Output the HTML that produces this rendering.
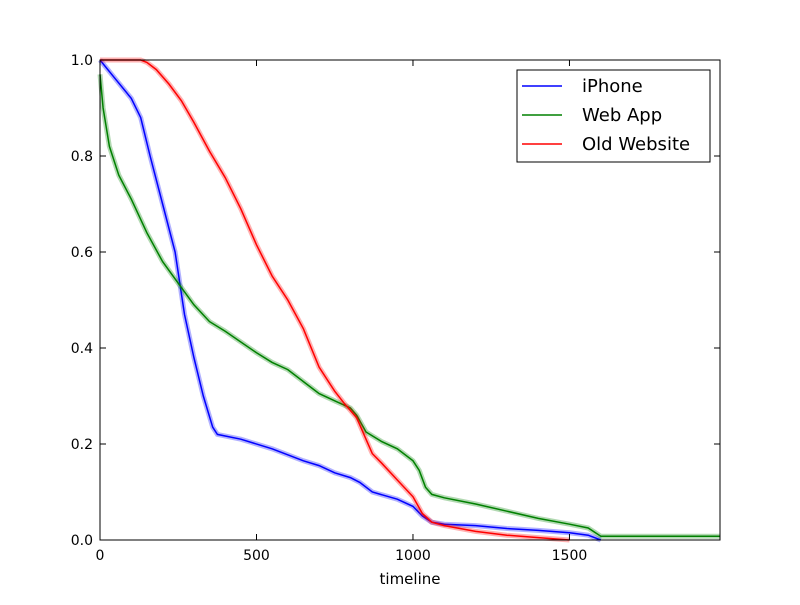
<!DOCTYPE html>
<html><head><meta charset="utf-8"><style>
body{margin:0;background:#fff}
svg{font-family:"DejaVu Sans","Liberation Sans",sans-serif}
</style></head><body>
<svg id="c" width="800" height="600">
<rect width="800" height="600" fill="#fff"/>
</svg>
<script>
const iphoneX=[0,50,100,130,160,200,240,270,300,330,360,375,450,550,650,700,750,800,830,870,950,1000,1030,1060,1100,1200,1300,1400,1500,1560,1600];
const iphoneY=[1.0,0.96,0.92,0.88,0.80,0.70,0.60,0.47,0.38,0.30,0.235,0.22,0.21,0.19,0.165,0.155,0.14,0.13,0.12,0.10,0.085,0.07,0.05,0.037,0.033,0.03,0.024,0.02,0.015,0.01,0.0];
const webX=[0,10,30,60,100,150,200,250,300,350,400,500,550,600,650,700,750,800,820,850,900,950,1000,1020,1040,1060,1100,1200,1300,1400,1500,1560,1600,1981];
const webY=[0.97,0.9,0.82,0.76,0.71,0.64,0.58,0.535,0.49,0.455,0.435,0.39,0.37,0.355,0.33,0.305,0.29,0.275,0.26,0.225,0.205,0.19,0.165,0.145,0.11,0.095,0.088,0.075,0.06,0.045,0.033,0.025,0.008,0.008];
const oldX=[0,130,150,180,220,260,300,350,400,450,500,550,600,650,700,750,780,820,850,870,900,950,1000,1030,1060,1100,1200,1300,1400,1500];
const oldY=[1,1,0.995,0.98,0.95,0.915,0.87,0.81,0.755,0.69,0.615,0.55,0.5,0.44,0.36,0.31,0.285,0.255,0.21,0.18,0.16,0.125,0.09,0.055,0.037,0.03,0.018,0.01,0.005,0.0];
const xTicks=[0,500,1000,1500];
const yTicks=[0,0.2,0.4,0.6,0.8,1.0];
const yLabels=["0.0","0.2","0.4","0.6","0.8","1.0"];
const seriesNames=["iPhone","Web App","Old Website"];
const L=100,R=720,T=60,B=540,XMAX=1981;
const sx=v=>L+v/XMAX*(R-L), sy=v=>B-v*(B-T);
const svg=document.getElementById('c');const NS='http://www.w3.org/2000/svg';
function mk(t,a,p){const e=document.createElementNS(NS,t);for(const k in a)e.setAttribute(k,a[k]);(p||svg).appendChild(e);return e;}
const cols=['#0000ff','#008000','#ff0000'];
[[iphoneX,iphoneY],[webX,webY],[oldX,oldY]].forEach((s,i)=>{
 const d=s[0].map((x,j)=>(j?'L':'M')+sx(x).toFixed(1)+','+sy(s[1][j]).toFixed(1)).join('');
 const band=mk('path',{d:d,fill:'none',stroke:cols[i],'stroke-opacity':0.3,'stroke-width':5});
 
 
 const p=mk('path',{d:d,fill:'none',stroke:cols[i],'stroke-width':1.5});
 
 
});
const frame=mk('rect',{x:L,y:T,width:R-L,height:B-T,fill:'none',stroke:'#000'});


xTicks.forEach(v=>{const x=sx(v);
 mk('line',{x1:x,x2:x,y1:B,y2:B-6,stroke:'#000'});mk('line',{x1:x,x2:x,y1:T,y2:T+6,stroke:'#000'});
 const t=mk('text',{x:x,y:B+20,'text-anchor':'middle','font-size':14});t.textContent=v;
 
 });
yTicks.forEach((v,i)=>{const y=sy(v);
 mk('line',{x1:L,x2:L+6,y1:y,y2:y,stroke:'#000'});mk('line',{x1:R,x2:R-6,y1:y,y2:y,stroke:'#000'});
 const t=mk('text',{x:L-7,y:y+5,'text-anchor':'end','font-size':14});t.textContent=yLabels[i];
 
 });
const xt=mk('text',{x:(L+R)/2,y:584,'text-anchor':'middle','font-size':15});xt.textContent='timeline';


const lg=mk('g',{});


mk('rect',{x:517,y:70,width:193,height:92,fill:'#fff',stroke:'#000'},lg);
seriesNames.forEach((n,i)=>{const y=86+i*29;
 mk('line',{x1:522,x2:562,y1:y,y2:y,stroke:cols[i],'stroke-width':1.5},lg);
 const t=mk('text',{x:582,y:y+6,'font-size':18},lg);t.textContent=n;
 
 });
</script>
</body></html>
